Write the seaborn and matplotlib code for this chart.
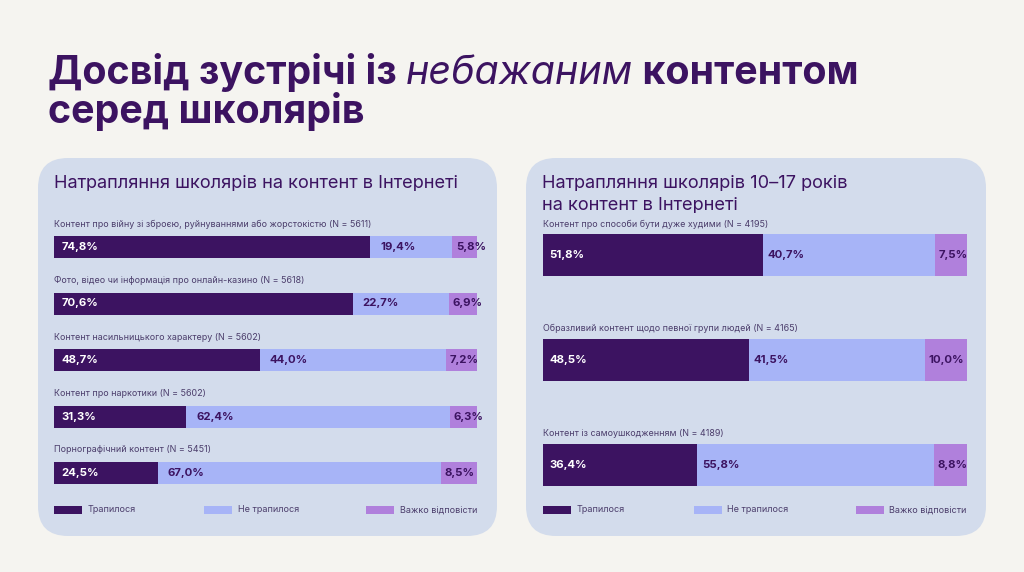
import matplotlib
matplotlib.use("Agg")
import matplotlib.pyplot as plt
from matplotlib.patches import FancyBboxPatch, Rectangle
import pandas as pd
import seaborn as sns

# colours
BG = "#f5f4f0"
PANEL = "#d3dcec"
DARK = "#3c1361"
LIGHT = "#a7b4f7"
VIOLET = "#b080dc"
TEXT = "#3c1361"
SUB = "#4b3d6b"

# data - left panel
left_labels = [
    "Контент про війну зі зброєю, руйнуваннями або жорстокістю (N = 5611)",
    "Фото, відео чи інформація про онлайн-казино (N = 5618)",
    "Контент насильницького характеру (N = 5602)",
    "Контент про наркотики (N = 5602)",
    "Порнографічний контент (N = 5451)",
]
left_yes = [74.8, 70.6, 48.7, 31.3, 24.5]
left_no = [19.4, 22.7, 44.0, 62.4, 67.0]
left_hard = [5.8, 6.9, 7.2, 6.3, 8.5]

# data - right panel
right_labels = [
    "Контент про способи бути дуже худими (N = 4195)",
    "Образливий контент щодо певної групи людей (N = 4165)",
    "Контент із самоушкодженням (N = 4189)",
]
right_yes = [51.8, 48.5, 36.4]
right_no = [40.7, 41.5, 55.8]
right_hard = [7.5, 10.0, 8.8]

legend_labels = ["Трапилося", "Не трапилося", "Важко відповісти"]
legend_x = [0, 35.5, 73.8]

sns.set_theme(style="white")
plt.rcParams["font.family"] = ["Inter", "DejaVu Sans"]

W, H = 1024, 572
fig = plt.figure(figsize=(W / 100, H / 100), dpi=100, facecolor=BG)

bg = fig.add_axes([0, 0, 1, 1])
bg.set_xlim(0, W)
bg.set_ylim(H, 0)
bg.axis("off")
for x0, x1 in [(38, 497), (526, 986)]:
    bg.add_patch(FancyBboxPatch((x0, 158), x1 - x0, 378,
                                boxstyle="round,pad=0,rounding_size=30",
                                fc=PANEL, ec="none"))

# title with italic word in the middle
r = fig.canvas.get_renderer()
x = 48
for txt, kw in [("Досвід зустрічі із ", dict(weight="bold")),
                ("небажаним", dict(style="italic", weight="normal")),
                (" контентом", dict(weight="bold"))]:
    t = bg.text(x, 84, txt, fontsize=28.4, color=TEXT, va="baseline", **kw)
    x += t.get_window_extent(r).width
bg.text(48, 123, "серед школярів", fontsize=28.4, color=TEXT, va="baseline", weight="bold")

# panel titles
bg.text(54, 188, "Натрапляння школярів на контент в Інтернеті", fontsize=13.1,
        color=TEXT, va="baseline")
bg.text(542, 188, "Натрапляння школярів 10–17 років", fontsize=13.1,
        color=TEXT, va="baseline")
bg.text(542, 210, "на контент в Інтернеті", fontsize=13.1, color=TEXT, va="baseline")


def draw_panel(x0, x1, labels, yes, no, hard, c0, step, bar_px, gap_px, pad_dark, pad_light):
    ax = fig.add_axes([x0 / W, 1 - 530 / H, (x1 - x0) / W, 330 / H])
    df = pd.DataFrame({"label": labels, "yes": yes, "no": no, "hard": hard})
    df["no_end"] = df["yes"] + df["no"]
    df["end"] = df["no_end"] + df["hard"]
    w = bar_px / step
    for col, c in [("end", VIOLET), ("no_end", LIGHT), ("yes", DARK)]:
        sns.barplot(data=df, x=col, y="label", orient="h", color=c, width=w,
                    saturation=1, linewidth=0, ax=ax)
    ax.set_xlim(0, 100)
    ax.set_ylim((530 - c0) / step, (200 - c0) / step)
    ax.axis("off")

    for i, row in df.iterrows():
        ax.text(0, i - gap_px / step, row["label"], fontsize=6.45, color=SUB,
                va="center", ha="left", clip_on=False)
        ax.annotate(f"{row['yes']:.1f}%".replace(".", ","), (0, i),
                    xytext=(pad_dark, 0), textcoords="offset points",
                    color="white", weight="bold", fontsize=8.2, va="center")
        ax.annotate(f"{row['no']:.1f}%".replace(".", ","), (row["yes"], i),
                    xytext=(pad_light, 0), textcoords="offset points",
                    color=TEXT, weight="bold", fontsize=8.2, va="center")
        ax.annotate(f"{row['hard']:.1f}%".replace(".", ","), (row["no_end"], i),
                    xytext=(2.5, 0), textcoords="offset points",
                    color=TEXT, weight="bold", fontsize=8.2, va="center", clip_on=False)

    ly = (510 - c0) / step
    lh = 8 / step
    for lx, lab, c in zip(legend_x, legend_labels, [DARK, LIGHT, VIOLET]):
        ax.add_patch(Rectangle((lx, ly - lh / 2), 6.6, lh, fc=c, ec="none", clip_on=False))
        ax.text(lx + 7.9, ly, lab, fontsize=6.5, color=SUB, va="center", clip_on=False)
    return ax


draw_panel(54, 477, left_labels, left_yes, left_no, left_hard,
           247, 56.5, 22, 23, 5.5, 7)
draw_panel(543, 967, right_labels, right_yes, right_no, right_hard,
           255, 104.75, 42, 31, 4.5, 3.5)

fig.savefig("out.png", dpi=100, facecolor=BG)
